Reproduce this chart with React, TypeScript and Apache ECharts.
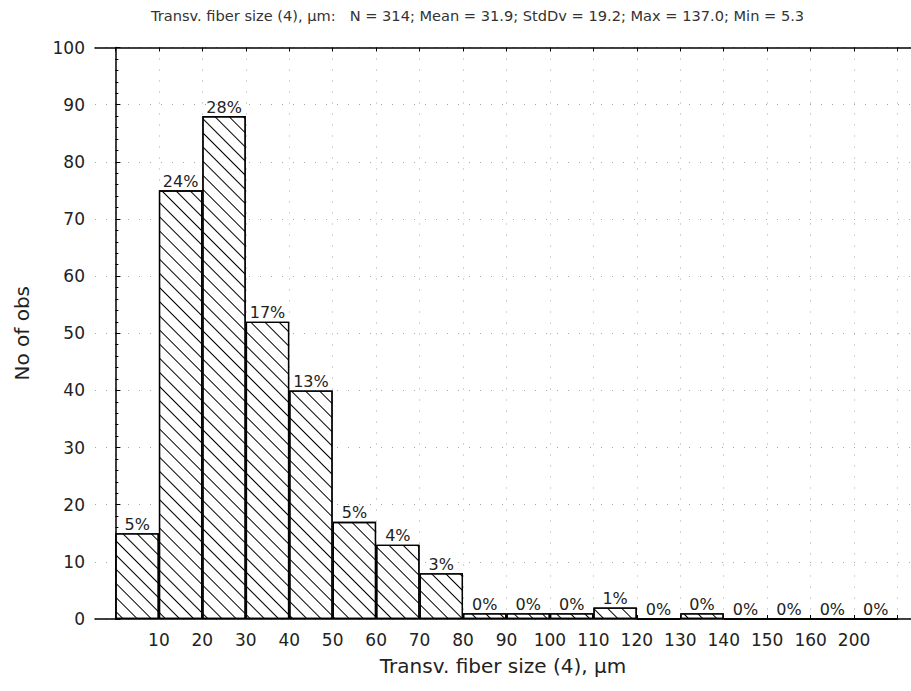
import { useEffect, useRef } from "react";
import * as echarts from "echarts";

// Histogram bins are indexed 0..17; bin i spans [i, i + 1] on the x axis.
const binCounts = [15, 75, 88, 52, 40, 17, 13, 8, 1, 1, 1, 2, 0, 1, 0, 0, 0, 0];
// Bin boundaries (in bin-index units) and the labels printed under them.
const boundaryPositions = [1, 2, 3, 4, 5, 6, 7, 8, 9, 10, 11, 12, 13, 14, 15, 16, 17];
const boundaryLabels = ["10", "20", "30", "40", "50", "60", "70", "80", "90", "100", "110", "120", "130", "140", "150", "160", "200"];
const tickPositions = [0, 1, 2, 3, 4, 5, 6, 7, 8, 9, 10, 11, 12, 13, 14, 15, 16, 17, 18];

// Summary statistics shown in the header line.
const statNames = ["N", "Mean", "StdDv", "Max", "Min"];
const statValues = ["314", "31.9", "19.2", "137.0", "5.3"];

const variableName = "Transv. fiber size (4), \u00b5m";
const totalObs = binCounts.reduce((a, b) => a + b, 0);

const FONT = "DejaVu Sans";

export default function App() {
  const ref = useRef<HTMLDivElement>(null);

  useEffect(() => {
    if (!ref.current) return;
    const chart = echarts.init(ref.current, null, { renderer: "svg" });

    const header =
      variableName + ":   " + statNames.map((n, i) => `${n} = ${statValues[i]}`).join("; ");

    const gridDots = { type: [1, 10] as any, color: "#a8a8a8", width: 1 };

    chart.setOption({
      animation: false,
      aria: { enabled: true, decal: { show: true } },
      title: {
        text: header,
        left: 146,
        top: 3,
        textStyle: { fontFamily: FONT, fontSize: 14.6, fontWeight: "normal", color: "#333" },
      },
      grid: { left: 95, right: 0, top: 47.5, bottom: 72 },
      xAxis: [
        {
          type: "value",
          position: "bottom",
          min: -0.47,
          max: 18.31,
          name: variableName,
          nameLocation: "middle",
          nameGap: 37,
          nameTextStyle: { fontFamily: FONT, fontSize: 20, color: "#222" },
          axisLine: { show: true, onZero: false, lineStyle: { color: "#000", width: 1.5 } },
          axisTick: { show: true, inside: true, length: 4, customValues: tickPositions, lineStyle: { color: "#000" } },
          axisLabel: {
            customValues: boundaryPositions,
            formatter: (v: number) => boundaryLabels[Math.round(v) - 1] ?? "",
            fontFamily: FONT,
            fontSize: 17,
            color: "#222",
            margin: 12,
            hideOverlap: false,
          },
          splitLine: { show: true, lineStyle: gridDots },
        },
        {
          type: "value",
          position: "top",
          min: -0.47,
          max: 18.31,
          axisLine: { show: true, onZero: false, lineStyle: { color: "#000", width: 1.5 } },
          axisTick: { show: true, inside: true, length: 4, customValues: tickPositions, lineStyle: { color: "#000" } },
          axisLabel: { show: false },
          splitLine: { show: false },
        },
      ],
      yAxis: {
        type: "value",
        min: 0,
        max: 100,
        interval: 10,
        name: "No of obs",
        nameLocation: "middle",
        nameGap: 63,
        nameRotate: 90,
        nameTextStyle: { fontFamily: FONT, fontSize: 20, color: "#222" },
        axisLine: { show: true, lineStyle: { color: "#000", width: 1.5 } },
        axisTick: { show: true, inside: true, length: 5, lineStyle: { color: "#000" } },
        minorTick: { show: true, splitNumber: 5, length: 3, lineStyle: { color: "#000" } },
        axisLabel: { fontFamily: FONT, fontSize: 17, color: "#222", margin: 10 },
        splitLine: { show: true, lineStyle: gridDots },
      },
      series: [
        {
          type: "bar",
          xAxisIndex: 0,
          barWidth: "100%",
          data: binCounts.map((c, i) => [i + 0.5, c]),
          itemStyle: {
            color: "#fff",
            borderColor: "#000",
            borderWidth: 1.3,
            decal: {
              symbol: "rect",
              symbolSize: 1,
              dashArrayX: [1, 0],
              dashArrayY: [1, 9],
              rotation: Math.PI / 4,
              color: "#000",
              backgroundColor: "#fff",
            },
          },
          label: {
            show: true,
            position: "top",
            distance: 1,
            fontFamily: FONT,
            fontSize: 16,
            color: "#222",
            formatter: (p: any) => Math.round((p.value[1] / totalObs) * 100) + "%",
          },
        },
      ],
    });

    return () => chart.dispose();
  }, []);

  return (
    <div
      ref={ref}
      style={{ position: "absolute", left: 0, top: 0, width: 911, height: 691, background: "#fff" }}
    />
  );
}
